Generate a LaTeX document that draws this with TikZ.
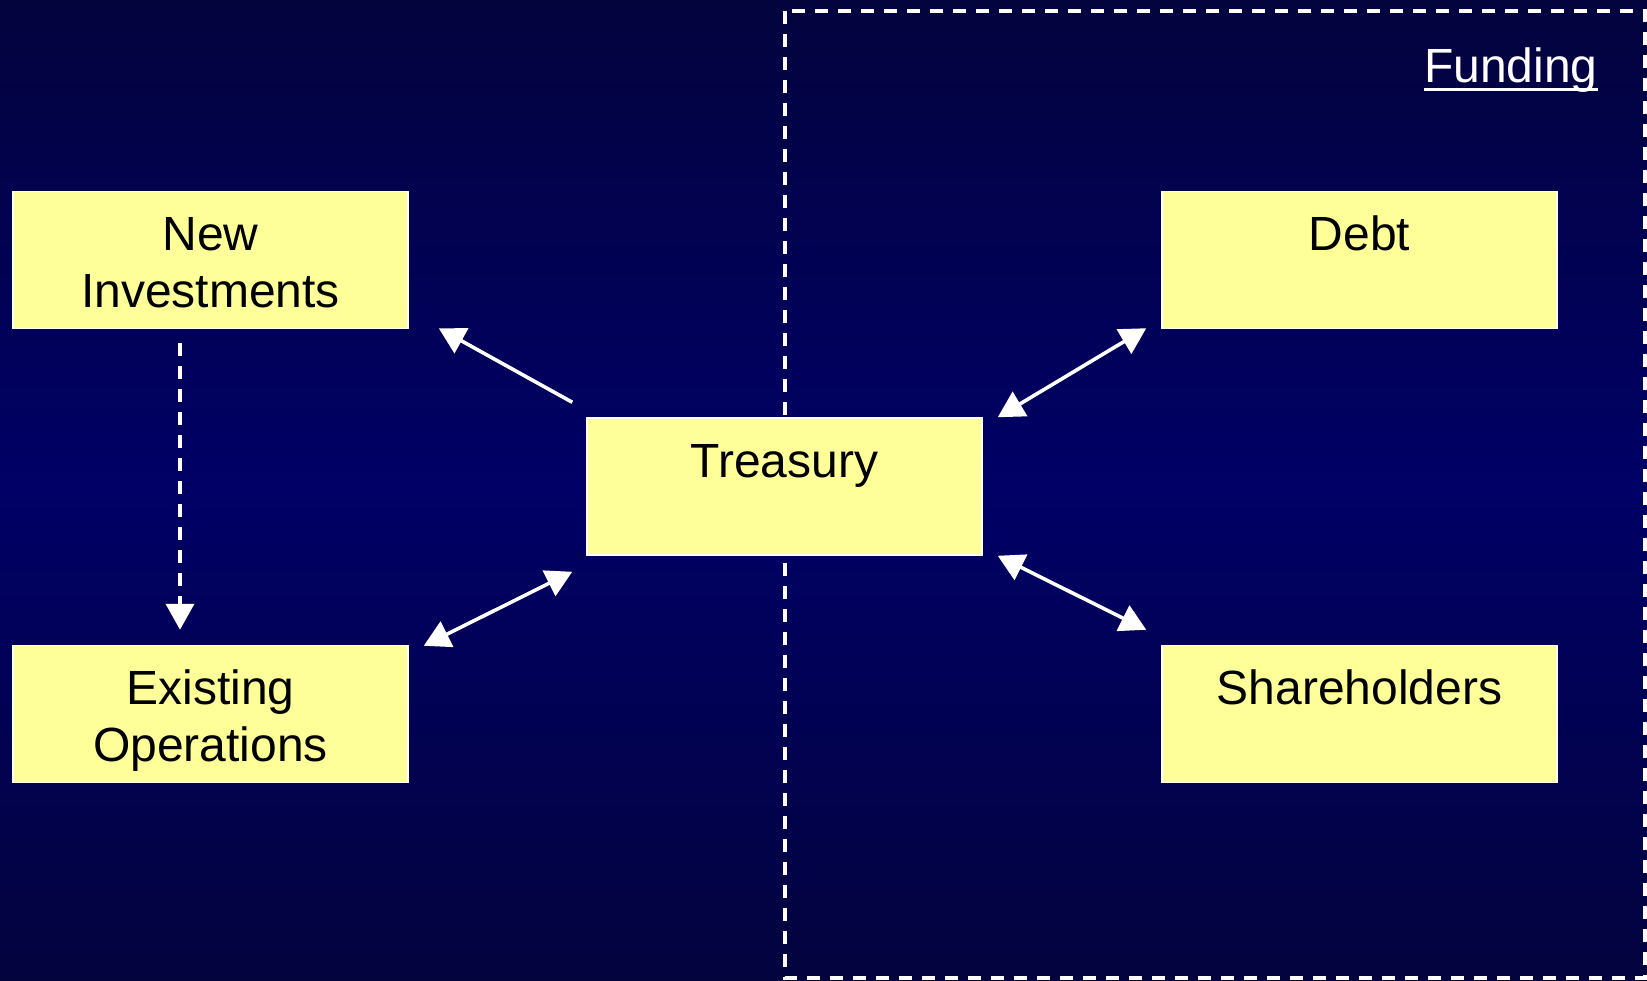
\documentclass[tikz,border=0pt]{standalone}
\usepackage{fontspec}
\setmainfont{Liberation Sans}
\usetikzlibrary{arrows.meta}
\definecolor{navyedge}{RGB}{3,3,62}
\definecolor{navymid}{RGB}{0,0,102}
\definecolor{boxyellow}{RGB}{255,255,153}
\tikzset{
  box/.style={draw=white, line width=0.75pt, fill=boxyellow, inner sep=0pt,
    text width=197.5pt, align=center, text height=29.5pt, text depth=39pt,
    font=\fontsize{24}{28.5}\selectfont},
  flow/.style={white, line width=1.8pt, >={Triangle[length=13pt,width=14pt]}}
}
\begin{document}
\begin{tikzpicture}[x=0.5pt,y=-0.5pt]
\useasboundingbox (0,0) rectangle (1647,980);
\shade[top color=navyedge, bottom color=navyedge, middle color=navymid] (0,0) rectangle (1647,980);
% funding area
\draw[white, line width=2pt, dash pattern=on 6.5pt off 5pt] (785,11) rectangle (1645,978);
\node[anchor=base east, inner sep=0pt, text=white, font=\fontsize{24}{28.5}\selectfont] (funding) at (1598,82) {Funding};
\draw[white, line width=1.5pt] ([yshift=-3.5pt]funding.base west) -- ([yshift=-3.5pt]funding.base east);
% boxes
\node[box] (newinv) at (210.5,260) {New\\Investments};
\node[box] (existing) at (210.5,714) {Existing\\Operations};
\node[box] (treasury) at (784.5,486.5) {Treasury};
\node[box] (debt) at (1359.5,260) {Debt};
\node[box] (holders) at (1359.5,714) {Shareholders};
% arrows
\draw[flow,->] ([shift={(-14,-15)}]treasury.north west) -- ([shift={(30,-1)}]newinv.south east);
\draw[flow,<->] ([shift={(15,1)}]existing.north east) -- ([shift={(-14,16)}]treasury.south west);
\draw[flow,<->] ([shift={(15,0)}]treasury.north east) -- ([shift={(-15,-1)}]debt.south west);
\draw[flow,<->] ([shift={(15,0)}]treasury.south east) -- ([shift={(-15,-15)}]holders.north west);
\draw[flow,->,line width=2pt,dash pattern=on 6.5pt off 5pt] ([shift={(-30.5,14)}]newinv.south) -- ([shift={(-30.5,-15)}]existing.north);
\end{tikzpicture}
\end{document}
